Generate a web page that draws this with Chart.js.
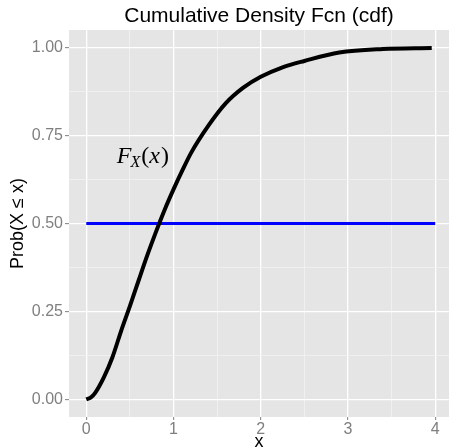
<!DOCTYPE html>
<html>
<head>
<meta charset="utf-8">
<script src="https://cdn.jsdelivr.net/npm/chart.js@4.4.1/dist/chart.umd.min.js"></script>
<style>
  html, body { margin: 0; padding: 0; background: #fff; }
  #wrap { width: 449px; height: 448px; }
</style>
</head>
<body>
<div id="wrap"><canvas id="cdf" width="449" height="448"></canvas></div>
<script>
// values
const xVals = [0, 0.05, 0.1, 0.2, 0.3, 0.4, 0.5, 0.6, 0.7, 0.8, 0.9, 1.0, 1.1, 1.2, 1.4, 1.6, 1.8, 2.0, 2.25, 2.5, 2.9, 3.4, 3.96];
const cdfVals = [0, 0.005, 0.018, 0.062, 0.12, 0.195, 0.265, 0.338, 0.41, 0.477, 0.54, 0.597, 0.65, 0.70, 0.778, 0.842, 0.886, 0.917, 0.944, 0.962, 0.986, 0.996, 0.999];
const refX = [0, 4];
const refY = [0.5, 0.5];

const xMajor = [0, 1, 2, 3, 4];
const xMinor = [0.5, 1.5, 2.5, 3.5];
const yMajor = [0, 0.25, 0.5, 0.75, 1];
const yMinor = [0.125, 0.375, 0.625, 0.875];

const titleText = 'Cumulative Density Fcn (cdf)';
const xTitle = 'x';
const yTitle = 'Prob(X \u2264 x)';
const labelPos = { x: 0.35, y: 0.673 };

const TICK_GREY = '#7f7f7f';

function buildTicks(major, minor) {
    return major.map(v => ({ value: v, major: true }))
        .concat(minor.map(v => ({ value: v, major: false })))
        .sort((a, b) => a.value - b.value);
}

const panelPlugin = {
    id: 'panel',
    beforeDraw(chart) {
        const { ctx, chartArea: a } = chart;
        ctx.save();
        ctx.fillStyle = '#e5e5e5';
        ctx.fillRect(a.left, a.top, a.right - a.left, a.bottom - a.top);
        ctx.restore();
    },
    afterDraw(chart) {
        const { ctx, chartArea: a, scales } = chart;
        ctx.save();
        // title, centred over the panel
        ctx.fillStyle = '#000';
        ctx.font = '21px "Liberation Sans", Arial, sans-serif';
        ctx.textAlign = 'center';
        ctx.textBaseline = 'middle';
        ctx.fillText(titleText, (a.left + a.right) / 2, 16);

        // F_X(x) label
        let px = scales.x.getPixelForValue(labelPos.x);
        const py = scales.y.getPixelForValue(labelPos.y);
        ctx.textAlign = 'left';
        ctx.textBaseline = 'alphabetic';
        ctx.font = 'italic 24px "Liberation Serif", serif';
        ctx.fillText('F', px, py);
        px += ctx.measureText('F').width - 1;
        ctx.font = 'italic 16px "Liberation Serif", serif';
        ctx.fillText('X', px, py + 4);
        px += ctx.measureText('X').width + 1;
        ctx.font = '24px "Liberation Serif", serif';
        ctx.fillText('(', px, py);
        px += ctx.measureText('(').width;
        ctx.font = 'italic 24px "Liberation Serif", serif';
        ctx.fillText('x', px, py);
        px += ctx.measureText('x').width + 1;
        ctx.font = '24px "Liberation Serif", serif';
        ctx.fillText(')', px, py);
        ctx.restore();
    }
};

const gridColor = c => (c.tick && c.tick.major) ? '#ffffff' : '#f2f2f2';
const gridWidth = c => (c.tick && c.tick.major) ? 1.3 : 0.8;
const tickColor = c => (c.tick && c.tick.major) ? TICK_GREY : 'rgba(0,0,0,0)';

new Chart(document.getElementById('cdf'), {
    type: 'scatter',
    data: {
        datasets: [
            {
                label: 'cdf',
                data: xVals.map((x, i) => ({ x: x, y: cdfVals[i] })),
                showLine: true,
                borderColor: '#000000',
                borderWidth: 4,
                pointRadius: 0,
                cubicInterpolationMode: 'monotone',
                order: 1
            },
            {
                label: 'half',
                data: refX.map((x, i) => ({ x: x, y: refY[i] })),
                showLine: true,
                borderColor: '#0000ff',
                borderWidth: 3,
                pointRadius: 0,
                order: 2
            }
        ]
    },
    options: {
        responsive: false,
        animation: false,
        devicePixelRatio: 1,
        layout: { padding: { top: 30, left: 0, right: 0, bottom: 0 } },
        plugins: {
            legend: { display: false },
            tooltip: { enabled: false },
            title: { display: false }
        },
        scales: {
            x: {
                type: 'linear',
                min: -0.198,
                max: 4.158,
                afterFit: s => { s.height = 31; },
                afterBuildTicks: s => { s.ticks = buildTicks(xMajor, xMinor); },
                border: { display: false },
                grid: { color: gridColor, lineWidth: gridWidth, tickColor: tickColor, tickLength: 3, tickWidth: 1 },
                ticks: {
                    autoSkip: false,
                    maxRotation: 0,
                    padding: 0,
                    color: TICK_GREY,
                    font: { family: '"Liberation Sans", Arial, sans-serif', size: 16 },
                    callback: function (v, i, ticks) { return ticks[i].major ? String(v) : ''; }
                },
                title: {
                    display: true,
                    text: xTitle,
                    color: '#000',
                    padding: 0,
                    font: { family: '"Liberation Sans", Arial, sans-serif', size: 18, lineHeight: 0.7 }
                }
            },
            y: {
                type: 'linear',
                min: -0.05,
                max: 1.05,
                afterFit: s => { s.width = 69; },
                afterBuildTicks: s => { s.ticks = buildTicks(yMajor, yMinor); },
                border: { display: false },
                grid: { color: gridColor, lineWidth: gridWidth, tickColor: tickColor, tickLength: 4, tickWidth: 1 },
                ticks: {
                    autoSkip: false,
                    padding: 2,
                    color: TICK_GREY,
                    font: { family: '"Liberation Sans", Arial, sans-serif', size: 16 },
                    callback: function (v, i, ticks) { return ticks[i].major ? Number(v).toFixed(2) : ''; }
                },
                title: {
                    display: true,
                    text: yTitle,
                    color: '#000',
                    padding: { top: 7, bottom: 0 },
                    font: { family: '"Liberation Sans", Arial, sans-serif', size: 18, lineHeight: 1.2 }
                }
            }
        }
    },
    plugins: [panelPlugin]
});
</script>
</body>
</html>
